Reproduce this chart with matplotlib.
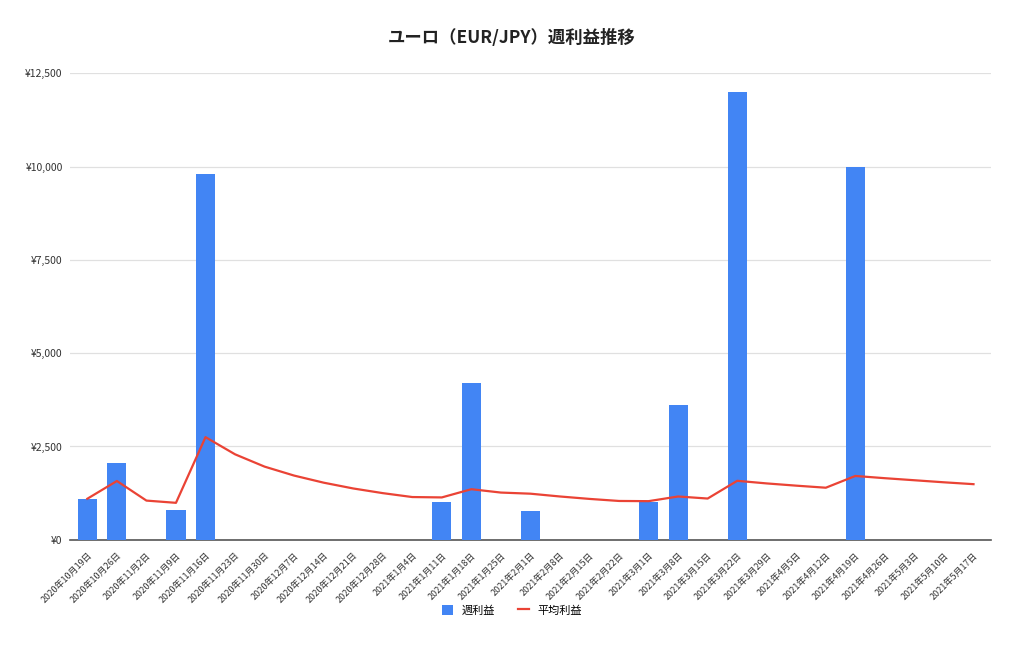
import matplotlib.pyplot as plt
import numpy as np

plt.rcParams['font.family'] = ['Noto Sans CJK JP', 'DejaVu Sans']

# --- データ ---
weeks = ["2020年10月19日", "2020年10月26日", "2020年11月2日", "2020年11月9日",
         "2020年11月16日", "2020年11月23日", "2020年11月30日", "2020年12月7日",
         "2020年12月14日", "2020年12月21日", "2020年12月28日", "2021年1月4日",
         "2021年1月11日", "2021年1月18日", "2021年1月25日", "2021年2月1日",
         "2021年2月8日", "2021年2月15日", "2021年2月22日", "2021年3月1日",
         "2021年3月8日", "2021年3月15日", "2021年3月22日", "2021年3月29日",
         "2021年4月5日", "2021年4月12日", "2021年4月19日", "2021年4月26日",
         "2021年5月3日", "2021年5月10日", "2021年5月17日"]
weekly_profit = [1100, 2050, 0, 800, 9800, 0, 0, 0, 0, 0, 0, 0,
                 1000, 4200, 0, 780, 0, 0, 0, 1000, 3600, 0, 12000, 0,
                 0, 0, 10000, 0, 0, 0, 0]
avg_profit = [1100, 1575, 1050, 990, 2750, 2290, 1960, 1720, 1530, 1375,
              1250, 1145, 1135, 1355, 1265, 1235, 1160, 1095, 1040, 1035,
              1160, 1105, 1580, 1510, 1450, 1395, 1710, 1650, 1595, 1540, 1490]
yticks = [0, 2500, 5000, 7500, 10000, 12500]
# ----------------

fig = plt.figure(figsize=(10.24, 6.48), dpi=100)
ax = fig.add_axes([0.068, 0.167, 0.9, 0.72])

x = np.arange(len(weeks))
bars = ax.bar(x, weekly_profit, width=0.65, color="#4285f4", label="週利益", zorder=3)
line, = ax.plot(x, avg_profit, color="#ea4335", linewidth=1.6, label="平均利益", zorder=4)

ax.set_xlim(-0.6, len(weeks) - 0.4)
ax.set_ylim(0, 12500)
ax.set_yticks(yticks)
ax.set_yticklabels([f"¥{v:,}" for v in yticks], fontsize=7.5, color="#333333")
ax.set_xticks(x)
ax.set_xticklabels(weeks, rotation=45, ha="right", rotation_mode="anchor",
                   fontsize=6.5, color="#333333")
ax.tick_params(axis="y", length=0, pad=5)
ax.tick_params(axis="x", length=0, pad=8)

ax.grid(axis="y", color="#e0e0e0", linewidth=0.9, zorder=0)
for s in ["top", "right", "left"]:
    ax.spines[s].set_visible(False)
ax.spines["bottom"].set_color("#555555")
ax.spines["bottom"].set_linewidth(1.2)

fig.suptitle("ユーロ（EUR/JPY）週利益推移", x=0.5, y=0.955,
             fontsize=12.5, fontweight="bold", color="#222222")

fig.legend([bars, line], ["週利益", "平均利益"], loc="center",
           bbox_to_anchor=(0.5, 0.058), ncol=2, frameon=False,
           fontsize=8, handlelength=1.0, handleheight=1.0, columnspacing=2.0)

plt.savefig("out.png", dpi=100)
